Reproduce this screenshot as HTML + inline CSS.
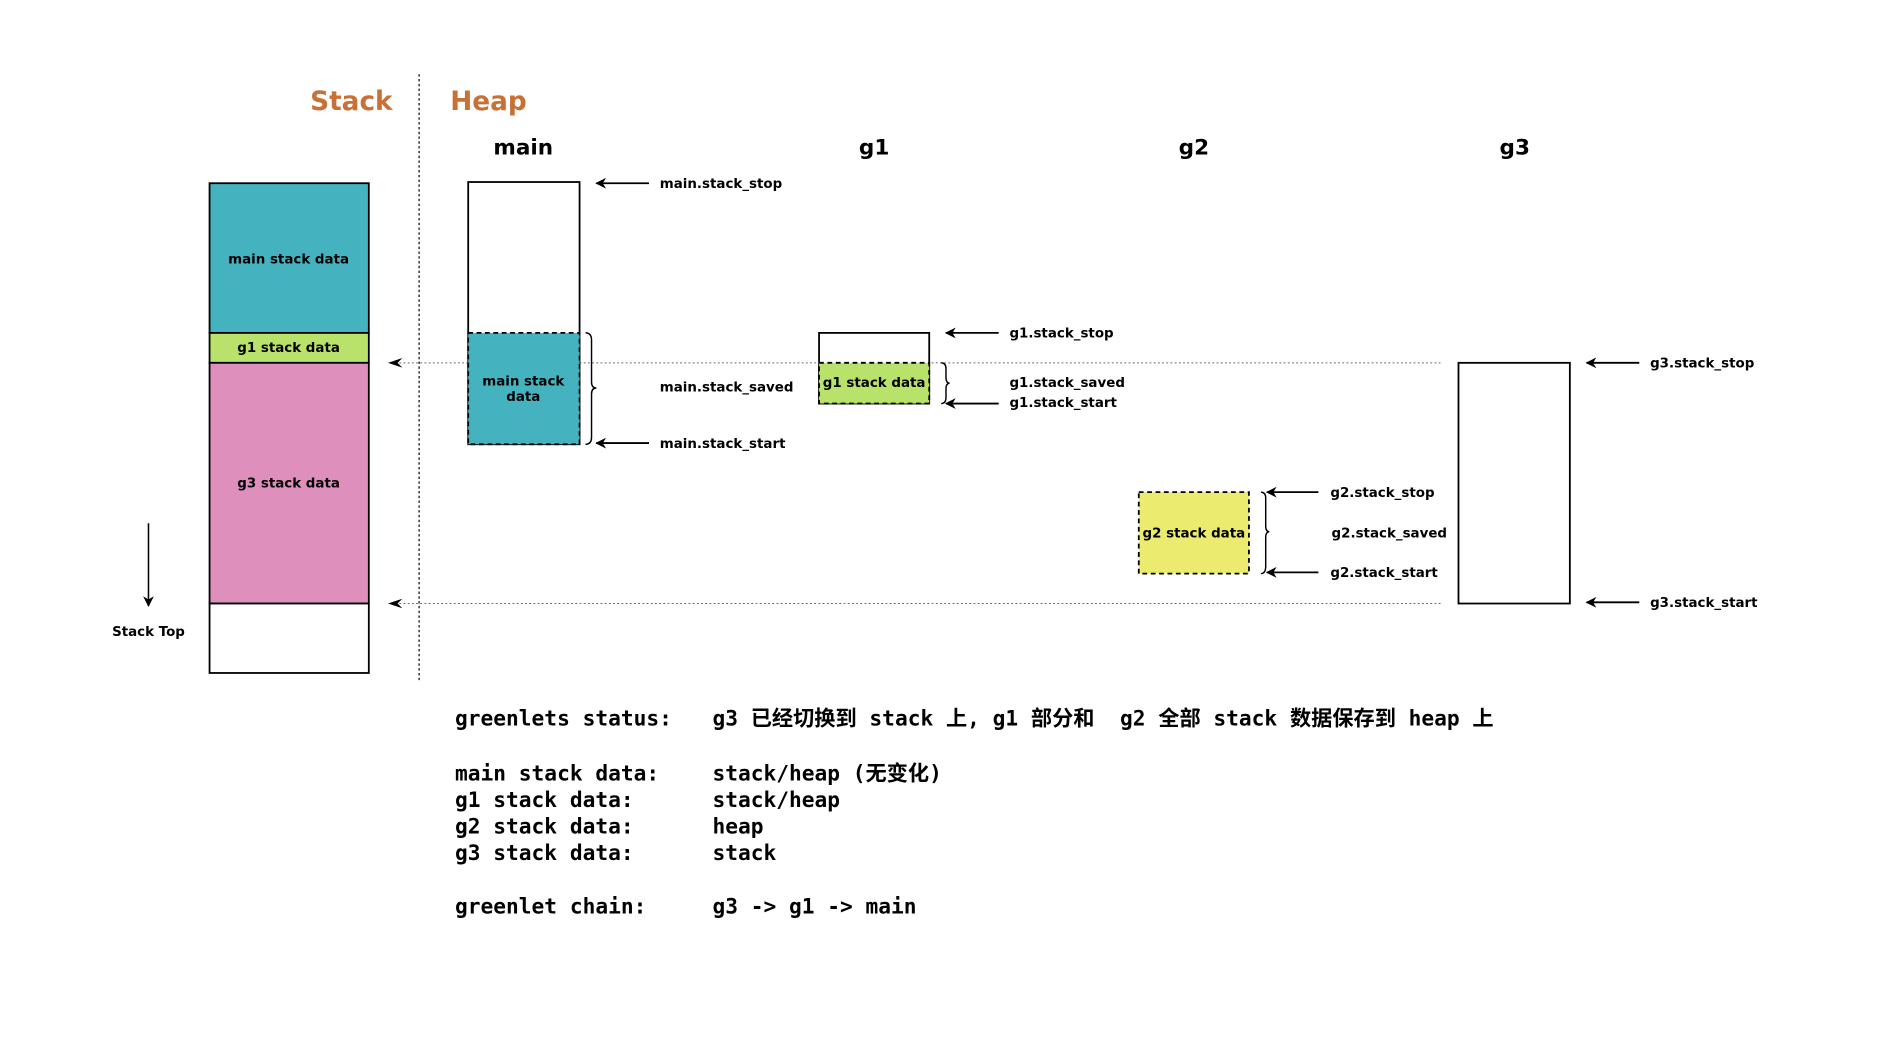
<!DOCTYPE html>
<html><head><meta charset="utf-8"><style>
html,body{margin:0;padding:0;background:#fff;}
svg{display:block;}
text{font-family:"DejaVu Sans","Liberation Sans","Noto Sans CJK SC",sans-serif;font-weight:bold;}
.s{font-size:11.2px;}
.m{font-family:"DejaVu Sans Mono","Liberation Mono","Noto Sans CJK SC",monospace;font-size:17.7px;white-space:pre;}
</style></head><body>
<svg width="1877" height="1040" viewBox="0 0 1567.5 868.5" xmlns="http://www.w3.org/2000/svg">
<defs>
<marker id="a" viewBox="0 0 10 10" refX="9" refY="5" markerWidth="9" markerHeight="9" orient="auto" markerUnits="userSpaceOnUse">
<path d="M10,5 L0,0 L3,5 L0,10 Z" fill="#000"/></marker>
</defs>
<rect width="1568" height="869" fill="#fff"/>
<text x="259" y="92" font-size="22" fill="#c87137">Stack</text>
<text x="376" y="92" font-size="22" fill="#c87137">Heap</text>
<line x1="350" y1="62" x2="350" y2="570" stroke="#000" stroke-dasharray="2,2"/>
<rect x="175" y="153" width="133" height="125" fill="#45b3bf" stroke="#000" stroke-width="1.5"/>
<rect x="175" y="278" width="133" height="25" fill="#b9e26a" stroke="#000" stroke-width="1.5"/>
<rect x="175" y="303" width="133" height="201" fill="#de8fbb" stroke="#000" stroke-width="1.5"/>
<rect x="175" y="504" width="133" height="58" fill="#fff" stroke="#000" stroke-width="1.5"/>
<text class="s" x="241" y="220" text-anchor="middle">main stack data</text>
<text class="s" x="241" y="294" text-anchor="middle">g1 stack data</text>
<text class="s" x="241" y="407" text-anchor="middle">g3 stack data</text>
<line x1="124" y1="437" x2="124" y2="506" stroke="#000" stroke-width="1.3" marker-end="url(#a)"/>
<text class="s" x="124" y="531" text-anchor="middle">Stack Top</text>
<line x1="330" y1="303" x2="1205" y2="303" stroke="#666" stroke-width="0.8" stroke-dasharray="1.5,2"/>
<line x1="330" y1="504" x2="1205" y2="504" stroke="#666" stroke-width="0.8" stroke-dasharray="1.5,2"/>
<path d="M324,303 L336,299 L332,303 L336,307 Z"/>
<path d="M324,504 L336,500 L332,504 L336,508 Z"/>
<text x="437" y="129" font-size="18" text-anchor="middle">main</text>
<text x="730" y="129" font-size="18" text-anchor="middle">g1</text>
<text x="997" y="129" font-size="18" text-anchor="middle">g2</text>
<text x="1265" y="129" font-size="18" text-anchor="middle">g3</text>
<rect x="391" y="152" width="93" height="219" fill="#fff" stroke="#000" stroke-width="1.5"/>
<rect x="391" y="278" width="93" height="93" fill="#45b3bf" stroke="#000" stroke-width="1.5" stroke-dasharray="4,3"/>
<text class="s" x="437" y="322" text-anchor="middle">main stack</text>
<text class="s" x="437" y="335" text-anchor="middle">data</text>
<path d="M489,278 q5,0 5,6 v35 q0,5 4,5 q-4,0 -4,5 v36 q0,6 -5,6" fill="none" stroke="#000" stroke-width="1.2"/>
<line x1="542" y1="153" x2="498" y2="153" stroke="#000" stroke-width="1.5" marker-end="url(#a)"/>
<line x1="542" y1="370" x2="498" y2="370" stroke="#000" stroke-width="1.5" marker-end="url(#a)"/>
<text class="s" x="551" y="157">main.stack_stop</text>
<text class="s" x="551" y="327">main.stack_saved</text>
<text class="s" x="551" y="374">main.stack_start</text>
<rect x="684" y="278" width="92" height="59" fill="#fff" stroke="#000" stroke-width="1.5"/>
<rect x="684" y="303" width="92" height="34" fill="#b9e26a" stroke="#000" stroke-width="1.5" stroke-dasharray="4,3"/>
<text class="s" x="730" y="323" text-anchor="middle">g1 stack data</text>
<path d="M786,303 q4,0 4,5 v7 q0,5 3,5 q-3,0 -3,5 v7 q0,5 -4,5" fill="none" stroke="#000" stroke-width="1.2"/>
<line x1="834" y1="278" x2="790" y2="278" stroke="#000" stroke-width="1.5" marker-end="url(#a)"/>
<line x1="834" y1="337" x2="790" y2="337" stroke="#000" stroke-width="1.5" marker-end="url(#a)"/>
<text class="s" x="843" y="282">g1.stack_stop</text>
<text class="s" x="843" y="323">g1.stack_saved</text>
<text class="s" x="843" y="340">g1.stack_start</text>
<rect x="951" y="411" width="92" height="68" fill="#ebeb6f" stroke="#000" stroke-width="1.5" stroke-dasharray="4,3"/>
<text class="s" x="997" y="449" text-anchor="middle">g2 stack data</text>
<path d="M1053,411 q4,0 4,5 v23 q0,5 3,5 q-3,0 -3,5 v24 q0,6 -4,6" fill="none" stroke="#000" stroke-width="1.2"/>
<line x1="1101" y1="411" x2="1058" y2="411" stroke="#000" stroke-width="1.5" marker-end="url(#a)"/>
<line x1="1101" y1="478" x2="1058" y2="478" stroke="#000" stroke-width="1.5" marker-end="url(#a)"/>
<text class="s" x="1111" y="415">g2.stack_stop</text>
<text class="s" x="1112" y="449">g2.stack_saved</text>
<text class="s" x="1111" y="482">g2.stack_start</text>
<rect x="1218" y="303" width="93" height="201" fill="#fff" stroke="#000" stroke-width="1.5"/>
<line x1="1369" y1="303" x2="1325" y2="303" stroke="#000" stroke-width="1.5" marker-end="url(#a)"/>
<line x1="1369" y1="503" x2="1325" y2="503" stroke="#000" stroke-width="1.5" marker-end="url(#a)"/>
<text class="s" x="1378" y="307">g3.stack_stop</text>
<text class="s" x="1378" y="507">g3.stack_start</text>
<text class="m" x="380" y="606">greenlets status:</text>
<text class="m" x="595" y="606">g3 已经切换到 stack 上, g1 部分和  g2 全部 stack 数据保存到 heap 上</text>
<text class="m" x="380" y="652">main stack data:</text>
<text class="m" x="595" y="652">stack/heap (无变化)</text>
<text class="m" x="380" y="674">g1 stack data:</text>
<text class="m" x="595" y="674">stack/heap</text>
<text class="m" x="380" y="696">g2 stack data:</text>
<text class="m" x="595" y="696">heap</text>
<text class="m" x="380" y="718">g3 stack data:</text>
<text class="m" x="595" y="718">stack</text>
<text class="m" x="380" y="763">greenlet chain:</text>
<text class="m" x="595" y="763">g3 -&gt; g1 -&gt; main</text>
</svg>
</body></html>
